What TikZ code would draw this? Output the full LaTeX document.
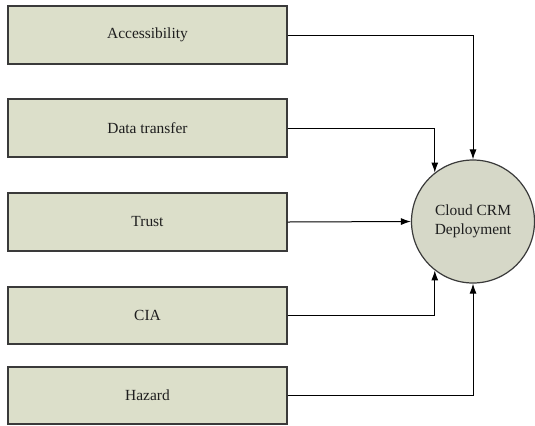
\documentclass[tikz,border=0pt]{standalone}
\usepackage{fontspec}
\setmainfont{Liberation Serif}
\usetikzlibrary{arrows.meta}
\definecolor{boxfill}{HTML}{DCDFCA}
\definecolor{circfill}{HTML}{D6D8C8}
\definecolor{edge}{HTML}{3A3A3A}
\definecolor{ink}{HTML}{1E1E1E}
\tikzset{
  factor/.style={draw=edge, fill=boxfill, line width=1.2bp, minimum width=279bp,
    minimum height=58bp, inner sep=0pt, text=ink, font=\fontsize{15.5}{18.5}\selectfont},
  goal/.style={circle, draw=edge, fill=circfill, line width=1.2bp, minimum size=123bp,
    inner sep=0pt, text=ink, align=center, font=\fontsize{15.5}{18.5}\selectfont},
  link/.style={draw=black, line width=1bp, -{Latex[length=10bp,width=7bp]}}
}
\begin{document}
\begin{tikzpicture}[x=1bp,y=-1bp]
  \useasboundingbox (0,0) rectangle (535,425);
  \node[factor] (acc)   at (147.5,35)  {Accessibility};
  \node[factor] (dt)    at (147.5,128) {Data transfer};
  \node[factor] (trust) at (147.5,222) {Trust};
  \node[factor, minimum height=57bp] (cia) at (147.5,315.5) {CIA};
  \node[factor, minimum height=57bp] (haz) at (147.5,395.5) {Hazard};
  \node[goal] (crm) at (473,221.5) {Cloud CRM\\Deployment};

  \draw[link] (acc.east)   -| (crm.north);
  \draw[link] (dt.east)    -| (crm.128);
  \draw[link] (trust.east) -- (crm.west);
  \draw[link] (cia.east)   -| (crm.232);
  \draw[link] (haz.east)   -| (crm.south);
\end{tikzpicture}
\end{document}
